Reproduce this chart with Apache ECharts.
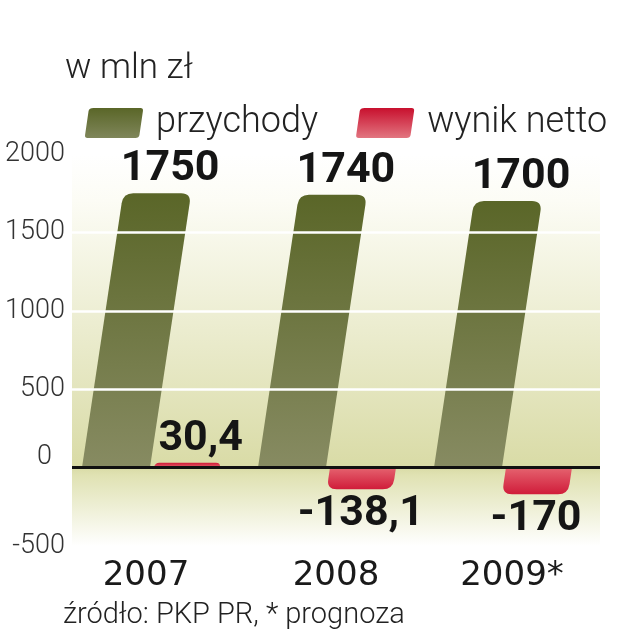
<!DOCTYPE html>
<html>
<head>
<meta charset="utf-8">
<script src="https://cdn.jsdelivr.net/npm/echarts@6/dist/echarts.min.js"></script>
<style>html,body{margin:0;padding:0;background:#fff}#c{width:620px;height:640px}</style>
</head>
<body>
<div id="c"></div>
<script>
// ---- data ----
const categories = ['2007', '2008', '2009*'];
const revenue = [1750, 1740, 1700];          // przychody
const netResult = [30.4, -138.1, -170];      // wynik netto
const yTicks = { min: -500, max: 2000, interval: 500 };
const gridLineValues = [500, 1000, 1500];

const chart = echarts.init(document.getElementById('c'), null, { renderer: 'canvas' });
const LG = echarts.graphic.LinearGradient;
const SLANT = 0.15;
const fmt = v => String(v).replace('.', ',');

const greenFar = '#5a6628', greenNear = '#878b62';
const redFar = '#d01c3a', redNear = '#e5636f';
const labelFont = 'bold 43px Roboto, "Liberation Sans Narrow", sans-serif';

function makeRender(offA, offB, farColor, nearColor) {
  return function (params, api) {
    const cat = api.value(0), val = api.value(1);
    const pZero = api.coord([cat, 0]);
    const pFar = api.coord([cat, val]);
    const band = api.size([1, 0])[0];
    const k = band / 176;
    const cx = pZero[0], y0 = pZero[1], y1 = pFar[1];
    const L0 = cx + offA * k, R0 = cx + offB * k;
    const xL = y => L0 + SLANT * (y0 - y);
    const xR = y => R0 + SLANT * (y0 - y);
    const dir = y1 < y0 ? 1 : -1;
    const h = Math.abs(y0 - y1);
    const r = Math.min(10, h);
    const yr = y1 + dir * r;
    const d = 'M' + L0 + ',' + y0 +
      ' L' + xL(yr) + ',' + yr +
      ' Q' + xL(y1) + ',' + y1 + ' ' + (xL(y1) + r) + ',' + y1 +
      ' L' + (xR(y1) - r) + ',' + y1 +
      ' Q' + xR(y1) + ',' + y1 + ' ' + xR(yr) + ',' + yr +
      ' L' + R0 + ',' + y0 + ' Z';
    const grad = dir === 1
      ? new LG(0, 0, 0, 1, [{ offset: 0, color: farColor }, { offset: 1, color: nearColor }])
      : new LG(0, 0, 0, 1, [{ offset: 0, color: nearColor }, { offset: 1, color: farColor }]);
    const midFar = (xL(y1) + xR(y1)) / 2;
    const label = dir === 1
      ? { type: 'text', style: { x: midFar + 13, y: y1 - 2, text: fmt(val), align: 'center', verticalAlign: 'bottom',
          font: labelFont, fill: '#151515' } }
      : { type: 'text', style: { x: midFar + 1, y: y1 + 3, text: fmt(val), align: 'center', verticalAlign: 'top',
          font: labelFont, fill: '#151515' } };
    return {
      type: 'group',
      children: [
        { type: 'path', shape: { pathData: d }, style: { fill: grad } },
        label
      ]
    };
  };
}

const legendIcon = 'path://M9,0 L56,0 Q59,0 58.5,3 L55,27 Q54.5,30 51,30 L3,30 Q0,30 0.5,27 L4,3 Q4.5,0 9,0 Z';

const option = {
  animation: false,
  backgroundColor: '#ffffff',
  title: [
    { text: 'w mln zł', left: 60, top: 47,
      textStyle: { fontFamily: 'Roboto', fontWeight: 300, fontSize: 35, color: '#222' } },
    { text: 'źródło: PKP PR, * prognoza', left: 58, top: 596,
      textStyle: { fontFamily: 'Roboto', fontWeight: 300, fontSize: 29, color: '#222' } }
  ],
  legend: {
    left: 80, top: 100, itemWidth: 58, itemHeight: 30, itemGap: 38,
    icon: legendIcon, selectedMode: false,
    data: ['przychody', 'wynik netto'],
    textStyle: { fontFamily: 'Roboto', fontWeight: 300, fontSize: 36, color: '#222', padding: [0, 0, 0, 8] }
  },
  grid: {
    left: 72, right: 20, top: 154, bottom: 94, show: true, borderWidth: 0,
    backgroundColor: new LG(0, 0, 0, 1, [
      { offset: 0, color: '#ffffff' },
      { offset: 0.12, color: '#fcfcf5' },
      { offset: 0.80, color: '#d9dba6' },
      { offset: 0.82, color: '#e0e2b3' },
      { offset: 1, color: '#ffffff' }
    ])
  },
  xAxis: {
    type: 'category', data: categories, position: 'bottom',
    axisLine: { show: false, onZero: false }, axisTick: { show: false }, splitLine: { show: false },
    axisLabel: {
      interval: 0, hideOverlap: false,
      margin: 13, fontFamily: '"DejaVu Sans"', fontSize: 34, color: '#1a1a1a', verticalAlign: 'top',
      formatter: (v, i) => i === 0 ? '{a|' + v + '}' : v,
      rich: { a: { fontFamily: '"DejaVu Sans"', fontSize: 34, color: '#1a1a1a', padding: [0, 28, 0, 0] } }
    }
  },
  yAxis: {
    type: 'value', min: yTicks.min, max: yTicks.max, interval: yTicks.interval,
    axisLine: { show: false }, axisTick: { show: false }, splitLine: { show: false },
    axisLabel: {
      margin: 7, fontFamily: 'Roboto', fontWeight: 300, fontSize: 27, color: '#333',
      formatter: v => v === 0 ? '{z|0}' : String(v),
      rich: { z: { fontFamily: 'Roboto', fontWeight: 300, fontSize: 27, color: '#333', padding: [0, 13, 20, 0] } }
    }
  },
  series: [
    {
      name: 'przychody', type: 'custom',
      itemStyle: { color: new LG(0, 0, 0, 1, [{ offset: 0, color: greenFar }, { offset: 1, color: '#7f865a' }]) },
      renderItem: makeRender(-78, -10, greenFar, greenNear),
      encode: { x: 0, y: 1 },
      data: revenue.map((v, i) => [i, v]),
      z: 2
    },
    {
      name: 'wynik netto', type: 'custom',
      itemStyle: { color: new LG(0, 0, 0, 1, [{ offset: 0, color: '#c8102e' }, { offset: 1, color: '#e27580' }]) },
      renderItem: makeRender(-6, 60, redFar, redNear),
      encode: { x: 0, y: 1 },
      data: netResult.map((v, i) => [i, v]),
      z: 2,
      markLine: {
        silent: true, symbol: 'none', z: 5, label: { show: false },
        data: gridLineValues.map(v => ({ yAxis: v, lineStyle: { color: '#ffffff', width: 2.5, type: 'solid' } }))
          .concat([{ yAxis: 0, lineStyle: { color: '#111111', width: 3, type: 'solid' } }])
      }
    }
  ]
};
chart.setOption(option);
</script>
</body>
</html>
